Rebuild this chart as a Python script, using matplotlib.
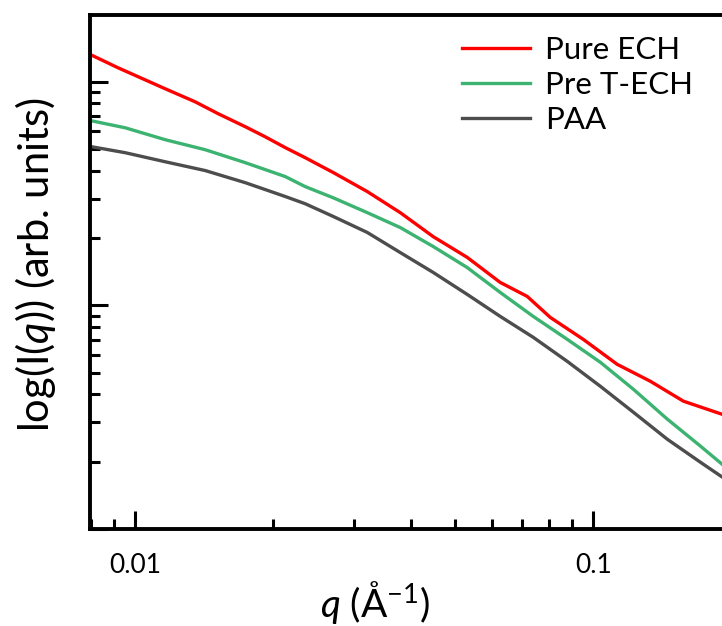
import numpy as np
import matplotlib
matplotlib.use('Agg')
import matplotlib.pyplot as plt
from matplotlib.ticker import LogLocator, NullFormatter, FixedLocator, FixedFormatter

plt.rcParams['font.family'] = ['Lato', 'DejaVu Sans']
plt.rcParams['mathtext.fontset'] = 'custom'
plt.rcParams['mathtext.rm'] = 'Lato'
plt.rcParams['mathtext.it'] = 'Lato:italic'

# scattering vector q (1/A)
q_ech = [0.00801, 0.00918, 0.01163, 0.01352, 0.01518, 0.01739, 0.01922, 0.02126,
         0.02350, 0.02706, 0.03211, 0.03790, 0.04474, 0.05307, 0.06265, 0.07176,
         0.08056, 0.09510, 0.1128, 0.1332, 0.1573, 0.191]
q = [0.00801, 0.00951, 0.01163, 0.01422, 0.01739, 0.02126, 0.02350, 0.02706,
     0.03211, 0.03790, 0.04474, 0.05307, 0.06265, 0.07396, 0.08775, 0.1036,
     0.1223, 0.1451, 0.1713, 0.191]

# intensity, arbitrary units
pure_ech = [13.20, 11.55, 9.31, 8.14, 7.20, 6.30, 5.68, 5.08, 4.58, 3.93, 3.23,
            2.60, 2.03, 1.64, 1.267, 1.097, 0.884, 0.705, 0.545, 0.458, 0.373, 0.326]
pre_tech = [6.70, 6.23, 5.51, 4.97, 4.35, 3.77, 3.40, 3.03, 2.60, 2.23, 1.834,
            1.477, 1.143, 0.893, 0.705, 0.557, 0.422, 0.310, 0.235, 0.195]
paa = [5.13, 4.82, 4.39, 4.01, 3.54, 3.07, 2.85, 2.50, 2.12, 1.724, 1.404,
       1.120, 0.893, 0.720, 0.562, 0.435, 0.333, 0.252, 0.199, 0.171]

labels = ['Pure ECH', 'Pre T-ECH', 'PAA']
colors = ['#ff0000', '#3cb371', '#4d4d4d']

W, H = 722, 626
fig = plt.figure(figsize=(W / 100, H / 100), dpi=100)
ax = fig.add_axes([90 / W, 1 - 529 / H, (W - 90) / W, (529 - 15) / H])

for x, y, lab, c in zip([q_ech, q, q], [pure_ech, pre_tech, paa], labels, colors):
    ax.plot(x, y, color=c, lw=2.4, label=lab)

ax.set_xscale('log')
ax.set_yscale('log')
ax.set_xlim(0.00797, 0.191)
ax.set_ylim(0.1, 19.9)

for s in ['left', 'bottom', 'top']:
    ax.spines[s].set_linewidth(2.8)
ax.spines['right'].set_visible(False)

ax.xaxis.set_major_locator(FixedLocator([0.01, 0.1]))
ax.xaxis.set_major_formatter(FixedFormatter(['0.01', '0.1']))
ax.xaxis.set_minor_locator(LogLocator(base=10, subs=np.arange(2, 10)))
ax.xaxis.set_minor_formatter(NullFormatter())
ax.yaxis.set_major_locator(LogLocator(base=10, subs=[1.0]))
ax.yaxis.set_minor_locator(LogLocator(base=10, subs=np.arange(2, 10)))
ax.yaxis.set_major_formatter(NullFormatter())
ax.yaxis.set_minor_formatter(NullFormatter())

ax.tick_params(which='both', direction='in', top=False, right=False, width=2.2)
ax.tick_params(which='major', length=13, labelsize=19, pad=17)
ax.tick_params(which='minor', length=7.5)

ax.set_xlabel('$q$ (Å$^{-1}$)', fontsize=28)
ax.set_ylabel('log(I($q$)) (arb. units)', fontsize=30)
ax.xaxis.set_label_coords((375 - 90) / (W - 90), -0.098)
ax.yaxis.set_label_coords(-0.05, 0.515)

ax.legend(loc='upper left', bbox_to_anchor=(462 / W, 1 - 36 / H),
          bbox_transform=fig.transFigure, frameon=False, fontsize=22.5,
          handlelength=2.18, handletextpad=0.48, labelspacing=0.22,
          borderaxespad=0, borderpad=0)

fig.savefig('out.png', dpi=100)
